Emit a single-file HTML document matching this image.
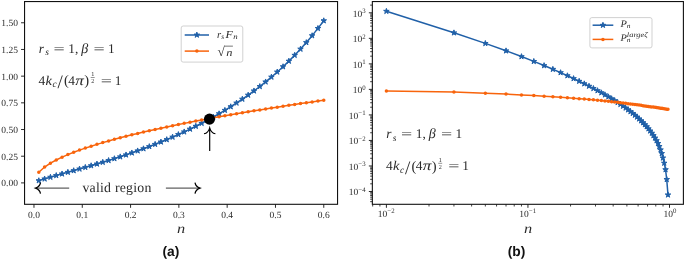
<!DOCTYPE html>
<html lang="en"><head><meta charset="utf-8"><title>Figure</title>
<style>
html,body{margin:0;padding:0;background:#fff;}
body{width:685px;height:261px;overflow:hidden;}
svg{display:block;}
text{font-family:"Liberation Serif","DejaVu Serif",serif;fill:#2b2b2b;text-rendering:geometricPrecision;}
.tk{font-size:9.5px;}
.ex{font-size:6.8px;}
.it{font-style:italic;}
.cap{font-family:"Liberation Sans","DejaVu Sans",sans-serif;font-weight:bold;font-size:13.8px;fill:#111;}
</style></head><body>
<svg width="685" height="261" viewBox="0 0 685 261">
<rect x="0" y="0" width="685" height="261" fill="#ffffff"/>
<g>
<path d="M38.8,180.64L44.61,178.89L50.43,177.18L56.25,175.52L62.06,173.87L67.88,172.24L73.69,170.62L79.51,168.98L85.32,167.34L91.14,165.67L96.96,163.97L102.77,162.24L108.59,160.47L114.4,158.65L120.22,156.78L126.03,154.86L131.85,152.88L137.67,150.83L143.48,148.72L149.3,146.54L155.11,144.29L160.93,141.97L166.74,139.56L172.56,137.07L178.38,134.5L184.19,131.84L190.01,129.08L195.82,126.22L201.64,123.27L207.45,120.2L213.27,117.01L219.09,113.71L224.9,110.28L230.72,106.71L236.53,102.99L242.35,99.12L248.16,95.09L253.98,90.88L259.8,86.48L265.61,81.87L271.43,77.05L277.24,71.99L283.06,66.68L288.87,61.1L294.69,55.23L300.51,49.05L306.32,42.53L312.14,35.65L317.95,28.39L323.77,20.71" fill="none" stroke="#2060a8" stroke-width="1.5" stroke-linejoin="round"/>
<path d="M38.8,177.74L39.45,179.75L41.56,179.75L39.85,180.98L40.5,182.99L38.8,181.75L37.09,182.99L37.75,180.98L36.04,179.75L38.15,179.75ZM44.61,175.99L45.27,177.99L47.37,177.99L45.67,179.23L46.32,181.24L44.61,180L42.91,181.24L43.56,179.23L41.86,177.99L43.96,177.99ZM50.43,174.28L51.08,176.29L53.19,176.29L51.48,177.53L52.13,179.53L50.43,178.29L48.73,179.53L49.38,177.53L47.67,176.29L49.78,176.29ZM56.25,172.62L56.9,174.62L59,174.62L57.3,175.86L57.95,177.86L56.25,176.62L54.54,177.86L55.19,175.86L53.49,174.62L55.59,174.62ZM62.06,170.97L62.71,172.98L64.82,172.98L63.11,174.22L63.77,176.22L62.06,174.98L60.36,176.22L61.01,174.22L59.3,172.98L61.41,172.98ZM67.88,169.34L68.53,171.35L70.64,171.35L68.93,172.59L69.58,174.59L67.88,173.35L66.17,174.59L66.82,172.59L65.12,171.35L67.23,171.35ZM73.69,167.72L74.34,169.72L76.45,169.72L74.75,170.96L75.4,172.96L73.69,171.72L71.99,172.96L72.64,170.96L70.93,169.72L73.04,169.72ZM79.51,166.08L80.16,168.09L82.27,168.09L80.56,169.33L81.21,171.33L79.51,170.09L77.8,171.33L78.46,169.33L76.75,168.09L78.86,168.09ZM85.32,164.44L85.98,166.44L88.08,166.44L86.38,167.68L87.03,169.68L85.32,168.44L83.62,169.68L84.27,167.68L82.57,166.44L84.67,166.44ZM91.14,162.77L91.79,164.77L93.9,164.77L92.19,166.01L92.84,168.01L91.14,166.78L89.44,168.01L90.09,166.01L88.38,164.77L90.49,164.77ZM96.96,161.07L97.61,163.07L99.71,163.07L98.01,164.31L98.66,166.32L96.96,165.08L95.25,166.32L95.9,164.31L94.2,163.07L96.3,163.07ZM102.77,159.34L103.42,161.34L105.53,161.34L103.82,162.58L104.48,164.58L102.77,163.35L101.07,164.58L101.72,162.58L100.01,161.34L102.12,161.34ZM108.59,157.57L109.24,159.57L111.35,159.57L109.64,160.81L110.29,162.81L108.59,161.57L106.88,162.81L107.53,160.81L105.83,159.57L107.94,159.57ZM114.4,155.75L115.05,157.75L117.16,157.75L115.46,158.99L116.11,160.99L114.4,159.76L112.7,160.99L113.35,158.99L111.64,157.75L113.75,157.75ZM120.22,153.88L120.87,155.88L122.98,155.88L121.27,157.12L121.92,159.13L120.22,157.89L118.51,159.13L119.17,157.12L117.46,155.88L119.57,155.88ZM126.03,151.96L126.69,153.96L128.79,153.96L127.09,155.2L127.74,157.2L126.03,155.96L124.33,157.2L124.98,155.2L123.28,153.96L125.38,153.96ZM131.85,149.98L132.5,151.98L134.61,151.98L132.9,153.22L133.55,155.22L131.85,153.98L130.15,155.22L130.8,153.22L129.09,151.98L131.2,151.98ZM137.67,147.93L138.32,149.94L140.42,149.94L138.72,151.17L139.37,153.18L137.67,151.94L135.96,153.18L136.61,151.17L134.91,149.94L137.01,149.94ZM143.48,145.82L144.13,147.83L146.24,147.83L144.53,149.06L145.19,151.07L143.48,149.83L141.78,151.07L142.43,149.06L140.72,147.83L142.83,147.83ZM149.3,143.64L149.95,145.65L152.06,145.65L150.35,146.89L151,148.89L149.3,147.65L147.59,148.89L148.24,146.89L146.54,145.65L148.65,145.65ZM155.11,141.39L155.76,143.4L157.87,143.4L156.17,144.64L156.82,146.64L155.11,145.4L153.41,146.64L154.06,144.64L152.35,143.4L154.46,143.4ZM160.93,139.07L161.58,141.07L163.69,141.07L161.98,142.31L162.63,144.31L160.93,143.07L159.22,144.31L159.88,142.31L158.17,141.07L160.28,141.07ZM166.74,136.66L167.4,138.67L169.5,138.67L167.8,139.9L168.45,141.91L166.74,140.67L165.04,141.91L165.69,139.9L163.99,138.67L166.09,138.67ZM172.56,134.17L173.21,136.18L175.32,136.18L173.61,137.42L174.26,139.42L172.56,138.18L170.86,139.42L171.51,137.42L169.8,136.18L171.91,136.18ZM178.38,131.6L179.03,133.6L181.13,133.6L179.43,134.84L180.08,136.85L178.38,135.61L176.67,136.85L177.32,134.84L175.62,133.6L177.72,133.6ZM184.19,128.94L184.84,130.94L186.95,130.94L185.24,132.18L185.9,134.18L184.19,132.95L182.49,134.18L183.14,132.18L181.43,130.94L183.54,130.94ZM190.01,126.18L190.66,128.18L192.77,128.18L191.06,129.42L191.71,131.43L190.01,130.19L188.3,131.43L188.95,129.42L187.25,128.18L189.36,128.18ZM195.82,123.32L196.47,125.33L198.58,125.33L196.88,126.57L197.53,128.57L195.82,127.33L194.12,128.57L194.77,126.57L193.06,125.33L195.17,125.33ZM201.64,120.37L202.29,122.37L204.4,122.37L202.69,123.61L203.34,125.61L201.64,124.37L199.93,125.61L200.59,123.61L198.88,122.37L200.99,122.37ZM207.45,117.3L208.11,119.3L210.21,119.3L208.51,120.54L209.16,122.54L207.45,121.31L205.75,122.54L206.4,120.54L204.7,119.3L206.8,119.3ZM213.27,114.11L213.92,116.12L216.03,116.12L214.32,117.36L214.97,119.36L213.27,118.12L211.57,119.36L212.22,117.36L210.51,116.12L212.62,116.12ZM219.09,110.81L219.74,112.81L221.84,112.81L220.14,114.05L220.79,116.06L219.09,114.82L217.38,116.06L218.03,114.05L216.33,112.81L218.43,112.81ZM224.9,107.38L225.55,109.38L227.66,109.38L225.95,110.62L226.61,112.62L224.9,111.39L223.2,112.62L223.85,110.62L222.14,109.38L224.25,109.38ZM230.72,103.81L231.37,105.81L233.48,105.81L231.77,107.05L232.42,109.05L230.72,107.82L229.01,109.05L229.66,107.05L227.96,105.81L230.07,105.81ZM236.53,100.09L237.18,102.1L239.29,102.1L237.59,103.34L238.24,105.34L236.53,104.1L234.83,105.34L235.48,103.34L233.77,102.1L235.88,102.1ZM242.35,96.22L243,98.23L245.11,98.23L243.4,99.47L244.05,101.47L242.35,100.23L240.64,101.47L241.3,99.47L239.59,98.23L241.7,98.23ZM248.16,92.19L248.82,94.19L250.92,94.19L249.22,95.43L249.87,97.44L248.16,96.2L246.46,97.44L247.11,95.43L245.41,94.19L247.51,94.19ZM253.98,87.98L254.63,89.98L256.74,89.98L255.03,91.22L255.68,93.22L253.98,91.98L252.28,93.22L252.93,91.22L251.22,89.98L253.33,89.98ZM259.8,83.58L260.45,85.58L262.55,85.58L260.85,86.82L261.5,88.82L259.8,87.58L258.09,88.82L258.74,86.82L257.04,85.58L259.14,85.58ZM265.61,78.97L266.26,80.97L268.37,80.97L266.66,82.21L267.32,84.22L265.61,82.98L263.91,84.22L264.56,82.21L262.85,80.97L264.96,80.97ZM271.43,74.15L272.08,76.15L274.19,76.15L272.48,77.39L273.13,79.39L271.43,78.15L269.72,79.39L270.37,77.39L268.67,76.15L270.78,76.15ZM277.24,69.09L277.89,71.09L280,71.09L278.3,72.33L278.95,74.34L277.24,73.1L275.54,74.34L276.19,72.33L274.48,71.09L276.59,71.09ZM283.06,63.78L283.71,65.78L285.82,65.78L284.11,67.02L284.76,69.03L283.06,67.79L281.35,69.03L282.01,67.02L280.3,65.78L282.41,65.78ZM288.87,58.2L289.53,60.21L291.63,60.21L289.93,61.44L290.58,63.45L288.87,62.21L287.17,63.45L287.82,61.44L286.12,60.21L288.22,60.21ZM294.69,52.33L295.34,54.34L297.45,54.34L295.74,55.57L296.39,57.58L294.69,56.34L292.99,57.58L293.64,55.57L291.93,54.34L294.04,54.34ZM300.51,46.15L301.16,48.15L303.26,48.15L301.56,49.39L302.21,51.4L300.51,50.16L298.8,51.4L299.45,49.39L297.75,48.15L299.85,48.15ZM306.32,39.63L306.97,41.64L309.08,41.64L307.37,42.87L308.03,44.88L306.32,43.64L304.62,44.88L305.27,42.87L303.56,41.64L305.67,41.64ZM312.14,32.75L312.79,34.76L314.9,34.76L313.19,36L313.84,38L312.14,36.76L310.43,38L311.08,36L309.38,34.76L311.49,34.76ZM317.95,25.49L318.6,27.49L320.71,27.49L319.01,28.73L319.66,30.74L317.95,29.5L316.25,30.74L316.9,28.73L315.19,27.49L317.3,27.49ZM323.77,17.81L324.42,19.81L326.53,19.81L324.82,21.05L325.47,23.06L323.77,21.82L322.06,23.06L322.72,21.05L321.01,19.81L323.12,19.81Z" fill="#2060a8" stroke="#2060a8" stroke-width="1.0" stroke-linejoin="miter"/>
<path d="M38.8,172.22L44.61,167.05L50.43,163.19L56.25,159.97L62.06,157.16L67.88,154.62L73.69,152.29L79.51,150.12L85.32,148.09L91.14,146.17L96.96,144.35L102.77,142.61L108.59,140.94L114.4,139.34L120.22,137.79L126.03,136.29L131.85,134.84L137.67,133.44L143.48,132.07L149.3,130.74L155.11,129.44L160.93,128.17L166.74,126.93L172.56,125.72L178.38,124.53L184.19,123.37L190.01,122.22L195.82,121.1L201.64,120L207.45,118.92L213.27,117.86L219.09,116.81L224.9,115.78L230.72,114.77L236.53,113.77L242.35,112.78L248.16,111.81L253.98,110.85L259.8,109.91L265.61,108.97L271.43,108.05L277.24,107.14L283.06,106.24L288.87,105.35L294.69,104.47L300.51,103.6L306.32,102.74L312.14,101.89L317.95,101.05L323.77,100.21" fill="none" stroke="#f8640c" stroke-width="1.5" stroke-linejoin="round"/>
<path d="M38.8,172.22h0M44.61,167.05h0M50.43,163.19h0M56.25,159.97h0M62.06,157.16h0M67.88,154.62h0M73.69,152.29h0M79.51,150.12h0M85.32,148.09h0M91.14,146.17h0M96.96,144.35h0M102.77,142.61h0M108.59,140.94h0M114.4,139.34h0M120.22,137.79h0M126.03,136.29h0M131.85,134.84h0M137.67,133.44h0M143.48,132.07h0M149.3,130.74h0M155.11,129.44h0M160.93,128.17h0M166.74,126.93h0M172.56,125.72h0M178.38,124.53h0M184.19,123.37h0M190.01,122.22h0M195.82,121.1h0M201.64,120h0M207.45,118.92h0M213.27,117.86h0M219.09,116.81h0M224.9,115.78h0M230.72,114.77h0M236.53,113.77h0M242.35,112.78h0M248.16,111.81h0M253.98,110.85h0M259.8,109.91h0M265.61,108.97h0M271.43,108.05h0M277.24,107.14h0M283.06,106.24h0M288.87,105.35h0M294.69,104.47h0M300.51,103.6h0M306.32,102.74h0M312.14,101.89h0M317.95,101.05h0M323.77,100.21h0" fill="none" stroke="#f8640c" stroke-width="3.5" stroke-linecap="round"/>
<path d="M33.97,204.3v3.5M82.27,204.3v3.5M130.57,204.3v3.5M178.87,204.3v3.5M227.17,204.3v3.5M275.47,204.3v3.5M323.77,204.3v3.5M24.55,182.9h-3.5M24.55,156.21h-3.5M24.55,129.53h-3.5M24.55,102.84h-3.5M24.55,76.15h-3.5M24.55,49.46h-3.5M24.55,22.78h-3.5" stroke="#111111" stroke-width="0.9" fill="none"/>
<rect x="24.55" y="1.55" width="313" height="202.75" fill="none" stroke="#111111" stroke-width="1.1"/>
<text class="tk" x="33.97" y="217.5" text-anchor="middle">0.0</text>
<text class="tk" x="82.27" y="217.5" text-anchor="middle">0.1</text>
<text class="tk" x="130.57" y="217.5" text-anchor="middle">0.2</text>
<text class="tk" x="178.87" y="217.5" text-anchor="middle">0.3</text>
<text class="tk" x="227.17" y="217.5" text-anchor="middle">0.4</text>
<text class="tk" x="275.47" y="217.5" text-anchor="middle">0.5</text>
<text class="tk" x="323.77" y="217.5" text-anchor="middle">0.6</text>
<text class="tk" x="17.9" y="186.3" text-anchor="end">0.00</text>
<text class="tk" x="17.9" y="159.61" text-anchor="end">0.25</text>
<text class="tk" x="17.9" y="132.93" text-anchor="end">0.50</text>
<text class="tk" x="17.9" y="106.24" text-anchor="end">0.75</text>
<text class="tk" x="17.9" y="79.55" text-anchor="end">1.00</text>
<text class="tk" x="17.9" y="52.86" text-anchor="end">1.25</text>
<text class="tk" x="17.9" y="26.18" text-anchor="end">1.50</text>
<text class="it" x="176.9" y="232.6" font-size="13.6" textLength="8.2" lengthAdjust="spacingAndGlyphs">n</text>
<g transform="translate(0,0)" font-size="13.4">
<text class="it" x="38.7" y="52.7">r</text><text class="it" x="45.3" y="54.8" font-size="9.4">s</text><text x="53.5" y="52.7" textLength="11.2" lengthAdjust="spacingAndGlyphs">=</text><text x="68.3" y="52.7">1,</text><text class="it" x="81.3" y="52.7" font-size="14">β</text><text x="93.4" y="52.7" textLength="11.2" lengthAdjust="spacingAndGlyphs">=</text><text x="108.0" y="52.7">1</text>
<text x="38.6" y="84.7">4</text><text class="it" x="45.6" y="84.7" textLength="6.4" lengthAdjust="spacingAndGlyphs">k</text><text class="it" x="52.4" y="86.8" font-size="9.4">c</text><text x="57.6" y="87.9" font-size="19">/</text><text x="64.1" y="85" font-size="14.6">(</text><text x="68.3" y="84.7">4</text><text class="it" x="75.2" y="84.7" font-size="14" textLength="8.6" lengthAdjust="spacingAndGlyphs">π</text><text x="84.3" y="85" font-size="14.6">)</text><text x="92.7" y="76.4" font-size="6.2" text-anchor="middle">1</text><path d="M90.7,77.5h4" stroke="#2b2b2b" stroke-width="0.5"/><text x="92.7" y="82.9" font-size="6.2" text-anchor="middle">2</text><text x="100.8" y="84.7" textLength="11.2" lengthAdjust="spacingAndGlyphs">=</text><text x="114.8" y="84.7">1</text>
</g>
<circle cx="209.5" cy="119.1" r="5.6" fill="#000"/>
<path d="M209.7,151V128M204,133.8C206.5,133.3 208.9,130.8 209.7,127.8C210.5,130.8 212.9,133.3 215.4,133.8" fill="none" stroke="#000" stroke-width="1.15"/>
<path d="M36.2,188.1H69.2" fill="none" stroke="#3a3a3a" stroke-width="1"/><path d="M40.5,182.6C40.1,185 37.8,187.3 35.5,188.1C37.8,188.9 40.1,191.2 40.5,193.6" fill="none" stroke="#000" stroke-width="1.25"/>
<path d="M165.9,188.1H199.4" fill="none" stroke="#3a3a3a" stroke-width="1"/><path d="M195,182.6C195.4,185 197.7,187.3 200,188.1C197.7,188.9 195.4,191.2 195,193.6" fill="none" stroke="#000" stroke-width="1.25"/>
<text x="82.4" y="191.5" font-size="13.8" textLength="69" lengthAdjust="spacing">valid region</text>
<rect x="181.2" y="26" width="61.6" height="36.1" rx="2" ry="2" fill="#fff" fill-opacity="0.8" stroke="#cccccc" stroke-width="0.9"/>
<path d="M184.7,35L196.85,35L209,35" fill="none" stroke="#2060a8" stroke-width="1.5" stroke-linejoin="round"/>
<path d="M196.85,32.1L197.5,34.1L199.61,34.1L197.9,35.34L198.55,37.35L196.85,36.11L195.15,37.35L195.8,35.34L194.09,34.1L196.2,34.1Z" fill="#2060a8" stroke="#2060a8" stroke-width="1.0" stroke-linejoin="miter"/>
<path d="M184.7,51.1L196.85,51.1L209,51.1" fill="none" stroke="#f8640c" stroke-width="1.5" stroke-linejoin="round"/>
<path d="M196.85,51.1h0" fill="none" stroke="#f8640c" stroke-width="3.5" stroke-linecap="round"/>
<text class="it" x="217.1" y="37.6" font-size="10.6">r</text><text class="it" x="221.3" y="39.3" font-size="7.4">s</text><text class="it" x="225.5" y="37.6" font-size="10.6" textLength="7.3" lengthAdjust="spacingAndGlyphs">F</text><text class="it" x="233.2" y="39.3" font-size="7.4" textLength="4.4" lengthAdjust="spacingAndGlyphs">n</text>
<text x="217.5" y="56.4" font-size="13.3">√</text><path d="M224.5,46.15H232.9" fill="none" stroke="#2b2b2b" stroke-width="0.65"/><text class="it" x="226.3" y="55.8" font-size="10.6" textLength="6.2" lengthAdjust="spacingAndGlyphs">n</text>
</g>
<g>
<path d="M386.4,11.26L453.94,32.78L485.34,43.41L506.02,50.79L521.47,56.57L533.81,61.38L544.08,65.55L552.88,69.26L560.57,72.62L567.41,75.7L573.56,78.55L579.15,81.23L584.28,83.75L589.01,86.15L593.4,88.44L597.5,90.63L601.35,92.75L604.96,94.79L608.38,96.78L611.62,98.72L614.69,100.62L617.62,102.49L620.41,104.33L623.09,106.15L625.65,107.96L628.11,109.76L630.47,111.56L632.75,113.36L634.94,115.18L637.06,117.01L639.11,118.86L641.1,120.75L643.02,122.67L644.88,124.63L646.69,126.65L648.45,128.74L650.15,130.9L651.81,133.15L653.43,135.5L655.01,137.98L656.55,140.61L658.05,143.42L659.31,146.45L660.54,149.78L661.74,153.48L662.9,157.91L664.24,163.12L665.55,169.62L666.73,179.45L667.98,194.86" fill="none" stroke="#2060a8" stroke-width="1.5" stroke-linejoin="round"/>
<path d="M386.4,8.36L387.05,10.36L389.16,10.36L387.45,11.6L388.1,13.6L386.4,12.36L384.7,13.6L385.35,11.6L383.64,10.36L385.75,10.36ZM453.94,29.88L454.59,31.88L456.69,31.88L454.99,33.12L455.64,35.12L453.94,33.89L452.23,35.12L452.88,33.12L451.18,31.88L453.29,31.88ZM485.34,40.51L485.99,42.51L488.1,42.51L486.39,43.75L487.04,45.75L485.34,44.52L483.63,45.75L484.29,43.75L482.58,42.51L484.69,42.51ZM506.02,47.89L506.67,49.89L508.78,49.89L507.08,51.13L507.73,53.13L506.02,51.9L504.32,53.13L504.97,51.13L503.27,49.89L505.37,49.89ZM521.47,53.67L522.12,55.67L524.23,55.67L522.53,56.91L523.18,58.91L521.47,57.67L519.77,58.91L520.42,56.91L518.71,55.67L520.82,55.67ZM533.81,58.48L534.46,60.49L536.57,60.49L534.86,61.73L535.51,63.73L533.81,62.49L532.1,63.73L532.76,61.73L531.05,60.49L533.16,60.49ZM544.08,62.65L544.73,64.66L546.84,64.66L545.13,65.9L545.78,67.9L544.08,66.66L542.37,67.9L543.03,65.9L541.32,64.66L543.43,64.66ZM552.88,66.36L553.53,68.36L555.63,68.36L553.93,69.6L554.58,71.61L552.88,70.37L551.17,71.61L551.82,69.6L550.12,68.36L552.22,68.36ZM560.57,69.72L561.22,71.72L563.33,71.72L561.62,72.96L562.27,74.96L560.57,73.72L558.87,74.96L559.52,72.96L557.81,71.72L559.92,71.72ZM567.41,72.8L568.06,74.8L570.17,74.8L568.46,76.04L569.11,78.04L567.41,76.8L565.7,78.04L566.35,76.04L564.65,74.8L566.76,74.8ZM573.56,75.65L574.21,77.66L576.32,77.66L574.61,78.9L575.26,80.9L573.56,79.66L571.86,80.9L572.51,78.9L570.8,77.66L572.91,77.66ZM579.15,78.33L579.8,80.33L581.91,80.33L580.21,81.57L580.86,83.57L579.15,82.34L577.45,83.57L578.1,81.57L576.39,80.33L578.5,80.33ZM584.28,80.85L584.93,82.86L587.04,82.86L585.33,84.09L585.98,86.1L584.28,84.86L582.57,86.1L583.22,84.09L581.52,82.86L583.63,82.86ZM589.01,83.25L589.66,85.25L591.77,85.25L590.06,86.49L590.71,88.49L589.01,87.26L587.3,88.49L587.96,86.49L586.25,85.25L588.36,85.25ZM593.4,85.54L594.05,87.54L596.16,87.54L594.46,88.78L595.11,90.78L593.4,89.54L591.7,90.78L592.35,88.78L590.64,87.54L592.75,87.54ZM597.5,87.73L598.15,89.73L600.26,89.73L598.56,90.97L599.21,92.98L597.5,91.74L595.8,92.98L596.45,90.97L594.74,89.73L596.85,89.73ZM601.35,89.85L602,91.85L604.1,91.85L602.4,93.09L603.05,95.09L601.35,93.85L599.64,95.09L600.29,93.09L598.59,91.85L600.69,91.85ZM604.96,91.89L605.61,93.9L607.72,93.9L606.02,95.14L606.67,97.14L604.96,95.9L603.26,97.14L603.91,95.14L602.2,93.9L604.31,93.9ZM608.38,93.88L609.03,95.89L611.14,95.89L609.43,97.13L610.08,99.13L608.38,97.89L606.67,99.13L607.33,97.13L605.62,95.89L607.73,95.89ZM611.62,95.82L612.27,97.83L614.37,97.83L612.67,99.07L613.32,101.07L611.62,99.83L609.91,101.07L610.56,99.07L608.86,97.83L610.96,97.83ZM614.69,97.72L615.34,99.73L617.45,99.73L615.74,100.97L616.39,102.97L614.69,101.73L612.98,102.97L613.64,100.97L611.93,99.73L614.04,99.73ZM617.62,99.59L618.27,101.6L620.38,101.6L618.67,102.83L619.32,104.84L617.62,103.6L615.91,104.84L616.56,102.83L614.86,101.6L616.97,101.6ZM620.41,101.43L621.06,103.44L623.17,103.44L621.47,104.68L622.12,106.68L620.41,105.44L618.71,106.68L619.36,104.68L617.65,103.44L619.76,103.44ZM623.09,103.25L623.74,105.26L625.84,105.26L624.14,106.5L624.79,108.5L623.09,107.26L621.38,108.5L622.03,106.5L620.33,105.26L622.43,105.26ZM625.65,105.06L626.3,107.07L628.41,107.07L626.7,108.3L627.35,110.31L625.65,109.07L623.94,110.31L624.59,108.3L622.89,107.07L625,107.07ZM628.11,106.86L628.76,108.87L630.86,108.87L629.16,110.1L629.81,112.11L628.11,110.87L626.4,112.11L627.05,110.1L625.35,108.87L627.46,108.87ZM630.47,108.66L631.12,110.66L633.23,110.66L631.52,111.9L632.18,113.91L630.47,112.67L628.77,113.91L629.42,111.9L627.71,110.66L629.82,110.66ZM632.75,110.46L633.4,112.47L635.51,112.47L633.8,113.71L634.45,115.71L632.75,114.47L631.04,115.71L631.69,113.71L629.99,112.47L632.1,112.47ZM634.94,112.28L635.6,114.28L637.7,114.28L636,115.52L636.65,117.52L634.94,116.29L633.24,117.52L633.89,115.52L632.19,114.28L634.29,114.28ZM637.06,114.11L637.72,116.11L639.82,116.11L638.12,117.35L638.77,119.35L637.06,118.12L635.36,119.35L636.01,117.35L634.31,116.11L636.41,116.11ZM639.11,115.96L639.76,117.97L641.87,117.97L640.17,119.2L640.82,121.21L639.11,119.97L637.41,121.21L638.06,119.2L636.36,117.97L638.46,117.97ZM641.1,117.85L641.75,119.85L643.85,119.85L642.15,121.09L642.8,123.09L641.1,121.85L639.39,123.09L640.04,121.09L638.34,119.85L640.45,119.85ZM643.02,119.77L643.67,121.77L645.78,121.77L644.07,123.01L644.72,125.01L643.02,123.78L641.31,125.01L641.96,123.01L640.26,121.77L642.37,121.77ZM644.88,121.73L645.53,123.74L647.64,123.74L645.93,124.98L646.59,126.98L644.88,125.74L643.18,126.98L643.83,124.98L642.12,123.74L644.23,123.74ZM646.69,123.75L647.34,125.76L649.45,125.76L647.74,127L648.39,129L646.69,127.76L644.98,129L645.64,127L643.93,125.76L646.04,125.76ZM648.45,125.84L649.1,127.84L651.2,127.84L649.5,129.08L650.15,131.08L648.45,129.85L646.74,131.08L647.39,129.08L645.69,127.84L647.79,127.84ZM650.15,128L650.8,130L652.91,130L651.21,131.24L651.86,133.24L650.15,132.01L648.45,133.24L649.1,131.24L647.4,130L649.5,130ZM651.81,130.25L652.47,132.25L654.57,132.25L652.87,133.49L653.52,135.49L651.81,134.25L650.11,135.49L650.76,133.49L649.06,132.25L651.16,132.25ZM653.43,132.6L654.08,134.6L656.19,134.6L654.49,135.84L655.14,137.85L653.43,136.61L651.73,137.85L652.38,135.84L650.67,134.6L652.78,134.6ZM655.01,135.08L655.66,137.08L657.77,137.08L656.06,138.32L656.71,140.32L655.01,139.09L653.3,140.32L653.96,138.32L652.25,137.08L654.36,137.08ZM656.55,137.71L657.2,139.71L659.3,139.71L657.6,140.95L658.25,142.95L656.55,141.71L654.84,142.95L655.49,140.95L653.79,139.71L655.89,139.71ZM658.05,140.52L658.7,142.52L660.8,142.52L659.1,143.76L659.75,145.76L658.05,144.52L656.34,145.76L656.99,143.76L655.29,142.52L657.39,142.52ZM659.31,143.55L659.96,145.56L662.07,145.56L660.36,146.79L661.01,148.8L659.31,147.56L657.6,148.8L658.26,146.79L656.55,145.56L658.66,145.56ZM660.54,146.88L661.19,148.88L663.3,148.88L661.59,150.12L662.24,152.12L660.54,150.88L658.83,152.12L659.49,150.12L657.78,148.88L659.89,148.88ZM661.74,150.58L662.39,152.58L664.49,152.58L662.79,153.82L663.44,155.83L661.74,154.59L660.03,155.83L660.68,153.82L658.98,152.58L661.09,152.58ZM662.9,155.01L663.55,157.01L665.66,157.01L663.96,158.25L664.61,160.25L662.9,159.02L661.2,160.25L661.85,158.25L660.14,157.01L662.25,157.01ZM664.24,160.22L664.89,162.22L667,162.22L665.29,163.46L665.94,165.46L664.24,164.22L662.53,165.46L663.19,163.46L661.48,162.22L663.59,162.22ZM665.55,166.72L666.2,168.73L668.3,168.73L666.6,169.96L667.25,171.97L665.55,170.73L663.84,171.97L664.49,169.96L662.79,168.73L664.9,168.73ZM666.73,176.55L667.38,178.56L669.49,178.56L667.78,179.79L668.43,181.8L666.73,180.56L665.02,181.8L665.67,179.79L663.97,178.56L666.08,178.56ZM667.98,191.96L668.63,193.96L670.74,193.96L669.04,195.2L669.69,197.21L667.98,195.97L666.28,197.21L666.93,195.2L665.22,193.96L667.33,193.96Z" fill="#2060a8" stroke="#2060a8" stroke-width="1.0" stroke-linejoin="miter"/>
<path d="M386.4,91.01L453.94,92.02L485.34,93.18L506.02,94.12L521.47,94.92L533.81,95.61L544.08,96.23L552.88,96.79L560.57,97.3L567.41,97.79L573.56,98.24L579.15,98.67L584.28,99.08L589.01,99.47L593.4,99.84L597.5,100.2L601.35,100.56L604.96,100.95L608.38,101.32L611.62,101.68L614.69,102.03L617.62,102.37L620.41,102.7L623.09,103.03L625.65,103.34L628.11,103.65L630.47,103.95L632.75,104.24L634.94,104.53L637.06,104.81L639.11,105.09L641.1,105.36L643.02,105.63L644.88,105.89L646.69,106.15L648.45,106.41L650.15,106.65L651.81,106.88L653.43,107.1L655.01,107.32L656.55,107.53L658.05,107.74L659.31,107.95L660.54,108.16L661.74,108.36L662.9,108.57L664.24,108.77L665.55,108.97L666.73,109.16L667.98,109.36" fill="none" stroke="#f8640c" stroke-width="1.5" stroke-linejoin="round"/>
<path d="M386.4,91.01h0M453.94,92.02h0M485.34,93.18h0M506.02,94.12h0M521.47,94.92h0M533.81,95.61h0M544.08,96.23h0M552.88,96.79h0M560.57,97.3h0M567.41,97.79h0M573.56,98.24h0M579.15,98.67h0M584.28,99.08h0M589.01,99.47h0M593.4,99.84h0M597.5,100.2h0M601.35,100.56h0M604.96,100.95h0M608.38,101.32h0M611.62,101.68h0M614.69,102.03h0M617.62,102.37h0M620.41,102.7h0M623.09,103.03h0M625.65,103.34h0M628.11,103.65h0M630.47,103.95h0M632.75,104.24h0M634.94,104.53h0M637.06,104.81h0M639.11,105.09h0M641.1,105.36h0M643.02,105.63h0M644.88,105.89h0M646.69,106.15h0M648.45,106.41h0M650.15,106.65h0M651.81,106.88h0M653.43,107.1h0M655.01,107.32h0M656.55,107.53h0M658.05,107.74h0M659.31,107.95h0M660.54,108.16h0M661.74,108.36h0M662.9,108.57h0M664.24,108.77h0M665.55,108.97h0M666.73,109.16h0M667.98,109.36h0" fill="none" stroke="#f8640c" stroke-width="3.5" stroke-linecap="round"/>
<path d="M372.35,191.51h-3.5M372.35,165.98h-3.5M372.35,140.45h-3.5M372.35,114.92h-3.5M372.35,89.39h-3.5M372.35,63.86h-3.5M372.35,38.33h-3.5M372.35,12.8h-3.5M386.4,204.3v3.5M527.95,204.3v3.5M669.5,204.3v3.5" stroke="#111111" stroke-width="0.9" fill="none"/>
<path d="M372.35,201.67h-2.2M372.35,199.2h-2.2M372.35,197.17h-2.2M372.35,195.46h-2.2M372.35,193.98h-2.2M372.35,192.68h-2.2M372.35,183.82h-2.2M372.35,179.33h-2.2M372.35,176.14h-2.2M372.35,173.67h-2.2M372.35,171.64h-2.2M372.35,169.93h-2.2M372.35,168.45h-2.2M372.35,167.15h-2.2M372.35,158.29h-2.2M372.35,153.8h-2.2M372.35,150.61h-2.2M372.35,148.14h-2.2M372.35,146.11h-2.2M372.35,144.4h-2.2M372.35,142.92h-2.2M372.35,141.62h-2.2M372.35,132.76h-2.2M372.35,128.27h-2.2M372.35,125.08h-2.2M372.35,122.61h-2.2M372.35,120.58h-2.2M372.35,118.87h-2.2M372.35,117.39h-2.2M372.35,116.09h-2.2M372.35,107.23h-2.2M372.35,102.74h-2.2M372.35,99.55h-2.2M372.35,97.08h-2.2M372.35,95.05h-2.2M372.35,93.34h-2.2M372.35,91.86h-2.2M372.35,90.56h-2.2M372.35,81.7h-2.2M372.35,77.21h-2.2M372.35,74.02h-2.2M372.35,71.55h-2.2M372.35,69.52h-2.2M372.35,67.81h-2.2M372.35,66.33h-2.2M372.35,65.03h-2.2M372.35,56.17h-2.2M372.35,51.68h-2.2M372.35,48.49h-2.2M372.35,46.02h-2.2M372.35,43.99h-2.2M372.35,42.28h-2.2M372.35,40.8h-2.2M372.35,39.5h-2.2M372.35,30.64h-2.2M372.35,26.15h-2.2M372.35,22.96h-2.2M372.35,20.49h-2.2M372.35,18.46h-2.2M372.35,16.75h-2.2M372.35,15.27h-2.2M372.35,13.97h-2.2M372.35,5.11h-2.2M372.68,204.3v2.2M379.92,204.3v2.2M429.01,204.3v2.2M453.94,204.3v2.2M471.62,204.3v2.2M485.34,204.3v2.2M496.55,204.3v2.2M506.02,204.3v2.2M514.23,204.3v2.2M521.47,204.3v2.2M570.56,204.3v2.2M595.49,204.3v2.2M613.17,204.3v2.2M626.89,204.3v2.2M638.1,204.3v2.2M647.57,204.3v2.2M655.78,204.3v2.2M663.02,204.3v2.2" stroke="#111111" stroke-width="0.8" fill="none"/>
<rect x="372.35" y="1.55" width="311.05" height="202.75" fill="none" stroke="#111111" stroke-width="1.1"/>
<text class="tk" x="365.6" y="195.31" text-anchor="end">10<tspan class="ex" dy="-3.6">−4</tspan></text>
<text class="tk" x="365.6" y="169.78" text-anchor="end">10<tspan class="ex" dy="-3.6">−3</tspan></text>
<text class="tk" x="365.6" y="144.25" text-anchor="end">10<tspan class="ex" dy="-3.6">−2</tspan></text>
<text class="tk" x="365.6" y="118.72" text-anchor="end">10<tspan class="ex" dy="-3.6">−1</tspan></text>
<text class="tk" x="365.6" y="93.19" text-anchor="end">10<tspan class="ex" dy="-3.6">0</tspan></text>
<text class="tk" x="365.6" y="67.66" text-anchor="end">10<tspan class="ex" dy="-3.6">1</tspan></text>
<text class="tk" x="365.6" y="42.13" text-anchor="end">10<tspan class="ex" dy="-3.6">2</tspan></text>
<text class="tk" x="365.6" y="16.6" text-anchor="end">10<tspan class="ex" dy="-3.6">3</tspan></text>
<text class="tk" x="377.8" y="216.9">10<tspan class="ex" dy="-3.6">−2</tspan></text>
<text class="tk" x="519.35" y="216.9">10<tspan class="ex" dy="-3.6">−1</tspan></text>
<text class="tk" x="663.5" y="216.9">10<tspan class="ex" dy="-3.6">0</tspan></text>
<text class="it" x="524.1" y="232.6" font-size="13.6" textLength="8.2" lengthAdjust="spacingAndGlyphs">n</text>
<g transform="translate(347.5,85.8)" font-size="13.4">
<text class="it" x="38.7" y="52.7">r</text><text class="it" x="45.3" y="54.8" font-size="9.4">s</text><text x="53.5" y="52.7" textLength="11.2" lengthAdjust="spacingAndGlyphs">=</text><text x="68.3" y="52.7">1,</text><text class="it" x="81.3" y="52.7" font-size="14">β</text><text x="93.4" y="52.7" textLength="11.2" lengthAdjust="spacingAndGlyphs">=</text><text x="108.0" y="52.7">1</text>
<text x="38.6" y="84.7">4</text><text class="it" x="45.6" y="84.7" textLength="6.4" lengthAdjust="spacingAndGlyphs">k</text><text class="it" x="52.4" y="86.8" font-size="9.4">c</text><text x="57.6" y="87.9" font-size="19">/</text><text x="64.1" y="85" font-size="14.6">(</text><text x="68.3" y="84.7">4</text><text class="it" x="75.2" y="84.7" font-size="14" textLength="8.6" lengthAdjust="spacingAndGlyphs">π</text><text x="84.3" y="85" font-size="14.6">)</text><text x="92.7" y="76.4" font-size="6.2" text-anchor="middle">1</text><path d="M90.7,77.5h4" stroke="#2b2b2b" stroke-width="0.5"/><text x="92.7" y="82.9" font-size="6.2" text-anchor="middle">2</text><text x="100.8" y="84.7" textLength="11.2" lengthAdjust="spacingAndGlyphs">=</text><text x="114.8" y="84.7">1</text>
</g>
<rect x="589.9" y="17.6" width="62.1" height="30.3" rx="2" ry="2" fill="#fff" fill-opacity="0.8" stroke="#cccccc" stroke-width="0.9"/>
<path d="M592.6,25.2L602.95,25.2L613.3,25.2" fill="none" stroke="#2060a8" stroke-width="1.5" stroke-linejoin="round"/>
<path d="M602.95,22.3L603.6,24.3L605.71,24.3L604,25.54L604.65,27.55L602.95,26.31L601.25,27.55L601.9,25.54L600.19,24.3L602.3,24.3Z" fill="#2060a8" stroke="#2060a8" stroke-width="1.0" stroke-linejoin="miter"/>
<path d="M592.6,39.4L602.95,39.4L613.3,39.4" fill="none" stroke="#f8640c" stroke-width="1.5" stroke-linejoin="round"/>
<path d="M602.95,39.4h0" fill="none" stroke="#f8640c" stroke-width="3.5" stroke-linecap="round"/>
<text class="it" x="620.4" y="26.8" font-size="9.8" textLength="6.4" lengthAdjust="spacingAndGlyphs">P</text><text class="it" x="626.7" y="28.0" font-size="6.8" textLength="3.7" lengthAdjust="spacingAndGlyphs">n</text>
<text class="it" x="620.4" y="41" font-size="9.8" textLength="6.4" lengthAdjust="spacingAndGlyphs">P</text><text class="it" x="626.7" y="42.4" font-size="6.8" textLength="3.7" lengthAdjust="spacingAndGlyphs">n</text><text class="it" x="626.8" y="37.4" font-size="7" textLength="21" lengthAdjust="spacingAndGlyphs">largeζ</text>
</g>
<text class="cap" x="170.9" y="256.3" text-anchor="middle">(a)</text>
<text class="cap" x="516.5" y="256.3" text-anchor="middle">(b)</text>
</svg></body></html>
